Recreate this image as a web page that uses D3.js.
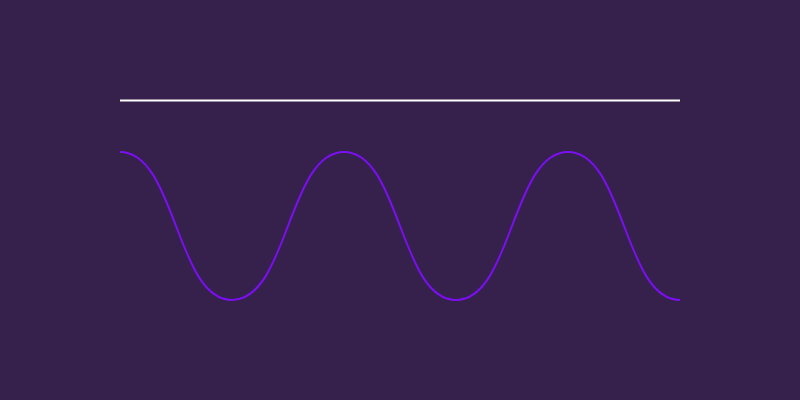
<!DOCTYPE html>
<html lang="en">
<head>
    <meta charset="UTF-8">
    <title>Wave</title>
    <script src="https://d3js.org/d3.v7.min.js"></script>
    <style>
        html, body { margin: 0; padding: 0; background: #36204c; }
        .wave { fill: none; stroke: #7a0ff0; stroke-width: 2px; }
        .ref { fill: none; stroke: #ffffff; stroke-width: 2px; }
    </style>
</head>
<body>
    <div id="chart"></div>
    <script>
        // peaks and troughs, in half periods
        const steps = [0, 1, 2, 3, 4, 5];
        const waveValues = [1, -1, 1, -1, 1, -1];
        const refValue = 1.7;

        const width = 800;
        const height = 400;

        const svg = d3.select("#chart")
            .append("svg")
            .attr("width", width)
            .attr("height", height);

        svg.append("rect").attr("width", width).attr("height", height).attr("fill", "#36204c");

        const x = d3.scaleLinear().domain([0, 5]).range([120, 680]);
        const y = d3.scaleLinear().domain([-1, 1]).range([300, 152]);

        svg.append("path")
            .datum([steps[0], steps[steps.length - 1]])
            .attr("class", "ref")
            .attr("d", d3.line().x(d => x(d)).y(() => Math.round(y(refValue)) + 0.5));

        // flat tangents at every peak and trough, like the reference
        svg.append("path")
            .datum(steps.map((s, i) => ({ s: s, v: waveValues[i] })))
            .attr("class", "wave")
            .attr("d", d3.line()
                .x(d => x(d.s))
                .y(d => y(d.v))
                .curve(d3.curveBumpX)
            );
    </script>
</body>
</html>
